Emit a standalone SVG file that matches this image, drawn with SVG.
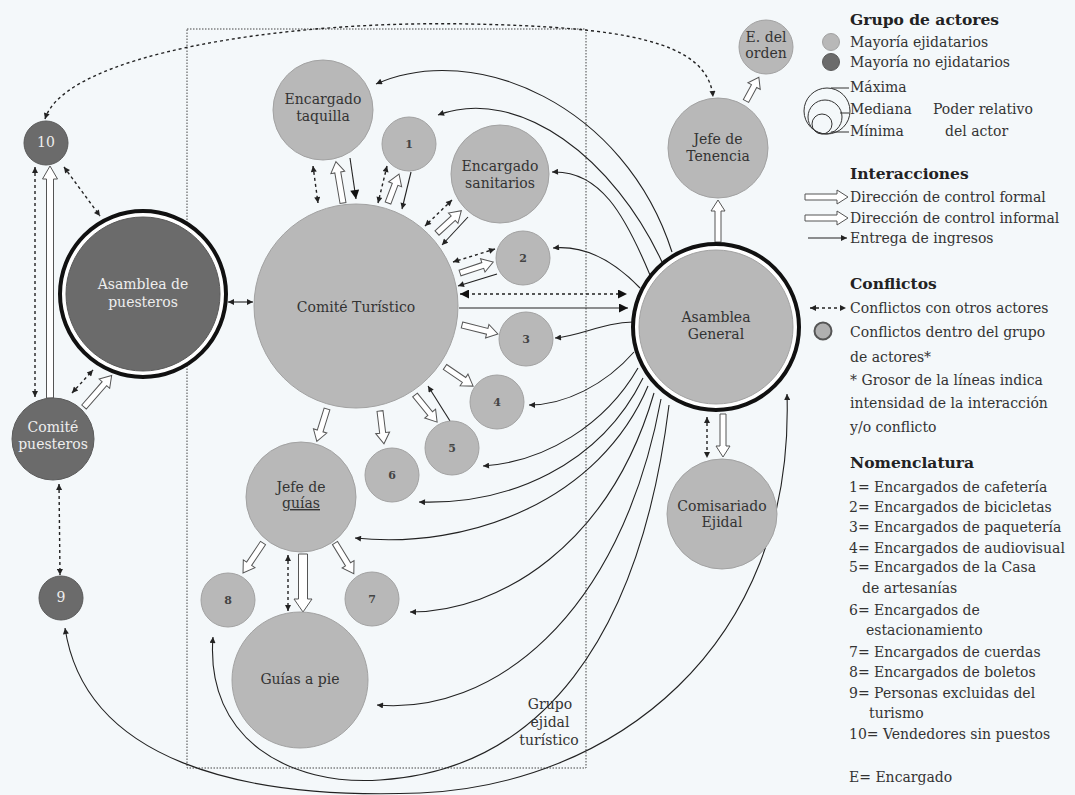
<svg xmlns="http://www.w3.org/2000/svg" width="1075" height="795" viewBox="0 0 1075 795">
<defs>
<style>
text{font-family:"DejaVu Serif","Liberation Serif",serif;fill:#333}
.nl{font-size:14px;text-anchor:middle}
.nd{font-size:14px;text-anchor:middle;fill:#eeeeee}
.num{font-size:11px;text-anchor:middle;fill:#444;font-weight:bold}
.lg{font-size:14px}
.hd{font-size:15.5px;font-weight:bold;fill:#222}
.light{fill:#b8b8b8;stroke:#a2a2a2;stroke-width:1}
.dark{fill:#6b6b6b;stroke:#5a5a5a;stroke-width:1}
.hol{fill:#fff;stroke:#555;stroke-width:1}
.sol{fill:none;stroke:#222;stroke-width:1.1}
.dash{fill:none;stroke:#222;stroke-width:1.4;stroke-dasharray:3 3}
</style>
<marker id="ah" viewBox="0 0 10 10" refX="10" refY="5" markerWidth="9" markerHeight="6" orient="auto-start-reverse" markerUnits="userSpaceOnUse"><path d="M0,0L10,5L0,10z" fill="#222"/></marker>
<marker id="ahb" viewBox="0 0 10 10" refX="10" refY="5" markerWidth="13" markerHeight="9" orient="auto-start-reverse" markerUnits="userSpaceOnUse"><path d="M0,0L10,5L0,10z" fill="#111"/></marker>
</defs>
<rect x="0" y="0" width="1075" height="795" fill="#f4f8fa"/>
<rect x="187" y="29" width="399" height="739" fill="none" stroke="#444" stroke-width="1" stroke-dasharray="1.5 1.5"/>

<g id="connectors">
<path class="sol" d="M672,252 C625,105 475,40 376,84" marker-end="url(#ah)"/>
<path class="sol" d="M662,262 C615,160 520,85 438,115" marker-end="url(#ah)"/>
<path class="sol" d="M650,275 C625,215 600,170 552,172" marker-end="url(#ah)"/>
<path class="sol" d="M640,288 C615,262 585,245 553,248" marker-end="url(#ah)"/>
<path class="sol" d="M633,322 C605,322 580,336 555,338" marker-end="url(#ah)"/>
<path class="sol" d="M634,352 C605,385 565,405 529,405" marker-end="url(#ah)"/>
<path class="sol" d="M638,368 C605,425 545,462 483,466" marker-end="url(#ah)"/>
<path class="sol" d="M643,378 C600,465 510,505 419,502" marker-end="url(#ah)"/>
<path class="sol" d="M648,386 C600,500 470,550 355,538" marker-end="url(#ah)"/>
<path class="sol" d="M654,393 C610,545 500,612 410,612" marker-end="url(#ah)"/>
<path class="sol" d="M661,399 C620,620 490,715 377,705" marker-end="url(#ah)"/>
<path class="sol" d="M669,405 C640,640 540,770 380,780 C290,786 205,740 213,637" marker-end="url(#ah)"/>
<path class="sol" d="M65,628 C85,760 240,800 420,793 C610,785 795,650 787,394" marker-start="url(#ah)" marker-end="url(#ah)"/>
<path class="dash" stroke-width="1.2" d="M45,119 C65,55 280,20 470,24 C620,27 708,40 713,97" marker-start="url(#ah)" marker-end="url(#ah)"/>
<path class="dash" stroke-width="2.2" stroke-dasharray="9 6" d="M460,294 H627" marker-start="url(#ahb)" marker-end="url(#ahb)"/>
<path class="sol" stroke-width="3.5" d="M459,308 H628" marker-end="url(#ahb)"/>
<path class="sol" stroke-width="1.5" d="M228,302 H253" marker-start="url(#ah)" marker-end="url(#ah)"/>
<path class="dash" d="M64,167 L100,216" marker-start="url(#ah)" marker-end="url(#ah)"/>
<path class="dash" d="M35,167 V397" marker-start="url(#ah)" marker-end="url(#ah)"/>
<path class="dash" d="M72,393 L93,370" marker-start="url(#ah)" marker-end="url(#ah)"/>
<path class="dash" d="M59,484 L60,575" marker-start="url(#ah)" marker-end="url(#ah)"/>
<path class="dash" d="M313,166 L318,203" marker-start="url(#ah)" marker-end="url(#ah)"/>
<path class="dash" d="M387,166 L378,203" marker-start="url(#ah)" marker-end="url(#ah)"/>
<path class="dash" d="M452,200 L425,226" marker-start="url(#ah)" marker-end="url(#ah)"/>
<path class="dash" d="M495,249 L453,262" marker-start="url(#ah)" marker-end="url(#ah)"/>
<path class="dash" d="M288,555 V611" marker-start="url(#ah)" marker-end="url(#ah)"/>
<path class="dash" d="M707,417 V458" marker-start="url(#ah)" marker-end="url(#ah)"/>
<path class="sol" stroke-width="2.6" d="M350,158 L356,199" marker-end="url(#ahb)"/>
<path class="sol" d="M411,172 L402,209" marker-end="url(#ah)"/>
<path class="sol" d="M468,217 L442,245" marker-end="url(#ah)"/>
<path class="sol" d="M497,274 L458,286" marker-end="url(#ah)"/>
<path class="sol" d="M450,421 L428,386" marker-end="url(#ah)"/>
<path class="hol" transform="translate(343,203) rotate(-99.7)" d="M0,-3H31V-7L42,0L31,7V3H0Z"/>
<path class="hol" transform="translate(388,203) rotate(-69.2)" d="M0,-3H20V-7L31,0L20,7V3H0Z"/>
<path class="hol" transform="translate(437,233) rotate(-42.5)" d="M0,-3H22V-7L33,0L22,7V3H0Z"/>
<path class="hol" transform="translate(460,273) rotate(-18.4)" d="M0,-3H24V-7L35,0L24,7V3H0Z"/>
<path class="hol" transform="translate(462,325) rotate(14)" d="M0,-3H26V-7L37,0L26,7V3H0Z"/>
<path class="hol" transform="translate(445,367) rotate(34.2)" d="M0,-3H23V-7L34,0L23,7V3H0Z"/>
<path class="hol" transform="translate(415,395) rotate(50.8)" d="M0,-3H24V-7L35,0L24,7V3H0Z"/>
<path class="hol" transform="translate(380,411) rotate(83.1)" d="M0,-3H22V-7L33,0L22,7V3H0Z"/>
<path class="hol" transform="translate(327,409) rotate(107.4)" d="M0,-3H23V-7L34,0L23,7V3H0Z"/>
<path class="hol" transform="translate(263,543) rotate(123.7)" d="M0,-3H25V-7L36,0L25,7V3H0Z"/>
<path class="hol" transform="translate(335,543) rotate(58.5)" d="M0,-3H25V-7L36,0L25,7V3H0Z"/>
<path class="hol" transform="translate(303,554) rotate(90)" d="M0,-4.5H45V-9L58,0L45,9V4.5H0Z"/>
<path class="hol" transform="translate(718,242) rotate(-90)" d="M0,-3H31V-7L42,0L31,7V3H0Z"/>
<path class="hol" transform="translate(746,101) rotate(-61.6)" d="M0,-3H17V-7L27,0L17,7V3H0Z"/>
<path class="hol" transform="translate(723,414) rotate(90)" d="M0,-3H32V-7L43,0L32,7V3H0Z"/>
<path class="hol" transform="translate(50,398) rotate(-90)" d="M0,-3.5H219V-7.5L232,0L219,7.5V3.5H0Z"/>
<path class="hol" transform="translate(84,407) rotate(-48.8)" d="M0,-3H31V-7L42,0L31,7V3H0Z"/>
</g>

<g id="n10"><circle class="dark" cx="46" cy="143" r="22"/><text class="nd" x="46" y="147" font-size="11">10</text></g>
<g id="asamblea-puesteros"><circle cx="143" cy="294" r="83" fill="#fff" stroke="#111" stroke-width="4"/><circle class="dark" cx="143" cy="294" r="77"/><text class="nd" x="143" y="289">Asamblea de</text><text class="nd" x="143" y="307">puesteros</text></g>
<g id="comite-puesteros"><circle class="dark" cx="53" cy="439" r="41"/><text class="nd" x="53" y="432">Comité</text><text class="nd" x="53" y="449">puesteros</text></g>
<g id="n9"><circle class="dark" cx="61" cy="598" r="22"/><text class="nd" x="61" y="602" font-size="11">9</text></g>
<g id="taquilla"><circle class="light" cx="323" cy="110" r="50"/><text class="nl" x="323" y="104">Encargado</text><text class="nl" x="323" y="121">taquilla</text></g>
<g id="n1"><circle class="light" cx="409" cy="144" r="27"/><text class="num" x="409" y="148">1</text></g>
<g id="sanitarios"><circle class="light" cx="500" cy="174" r="49"/><text class="nl" x="500" y="171">Encargado</text><text class="nl" x="500" y="188">sanitarios</text></g>
<g id="comite-turistico"><circle class="light" cx="356" cy="306" r="102"/><text class="nl" x="356" y="312">Comité Turístico</text></g>
<g id="n2"><circle class="light" cx="523" cy="258" r="27"/><text class="num" x="523" y="262">2</text></g>
<g id="n3"><circle class="light" cx="526" cy="339" r="27"/><text class="num" x="526" y="343">3</text></g>
<g id="n4"><circle class="light" cx="497" cy="402" r="27"/><text class="num" x="497" y="406">4</text></g>
<g id="n5"><circle class="light" cx="452" cy="448" r="27"/><text class="num" x="452" y="452">5</text></g>
<g id="n6"><circle class="light" cx="392" cy="475" r="27"/><text class="num" x="392" y="479">6</text></g>
<g id="jefe-guias"><circle class="light" cx="301" cy="497" r="55"/><text class="nl" x="301" y="492">Jefe de</text><text class="nl" x="301" y="508" text-decoration="underline">guías</text></g>
<g id="n8"><circle class="light" cx="228" cy="600" r="27"/><text class="num" x="228" y="604">8</text></g>
<g id="n7"><circle class="light" cx="372" cy="599" r="27"/><text class="num" x="372" y="603">7</text></g>
<g id="guias-pie"><circle class="light" cx="300" cy="680" r="68"/><text class="nl" x="300" y="684">Guías a pie</text></g>
<g id="grupo-label"><text class="nl" x="550" y="709">Grupo</text><text class="nl" x="550" y="727">ejidal</text><text class="nl" x="549" y="745">turístico</text></g>
<g id="jefe-tenencia"><circle class="light" cx="718" cy="148" r="50"/><text class="nl" x="718" y="144">Jefe de</text><text class="nl" x="718" y="161">Tenencia</text></g>
<g id="e-orden"><circle class="light" cx="766" cy="47" r="27"/><text class="nl" x="766" y="42" font-size="12">E. del</text><text class="nl" x="766" y="58" font-size="12">orden</text></g>
<g id="asamblea-general"><circle cx="716" cy="327" r="83" fill="#fff" stroke="#111" stroke-width="4"/><circle class="light" cx="716" cy="327" r="77"/><text class="nl" x="716" y="322">Asamblea</text><text class="nl" x="716" y="339">General</text></g>
<g id="comisariado"><circle class="light" cx="722" cy="514" r="55"/><text class="nl" x="722" y="511">Comisariado</text><text class="nl" x="722" y="527">Ejidal</text></g>

<g id="legend">
<text class="hd" x="850" y="25">Grupo de actores</text>
<circle class="light" cx="831" cy="42" r="8.5" stroke="#888"/>
<text class="lg" x="850" y="47">Mayoría ejidatarios</text>
<circle class="dark" cx="831" cy="62" r="8.5"/>
<text class="lg" x="850" y="67">Mayoría no ejidatarios</text>
<circle cx="827" cy="111" r="23" fill="none" stroke="#333" stroke-width="1"/>
<circle cx="825" cy="117" r="17" fill="none" stroke="#333" stroke-width="1"/>
<circle cx="822" cy="124" r="10" fill="none" stroke="#333" stroke-width="1"/>
<path d="M831,88 H849 M840,113 H849 M831,132 H849" stroke="#333" stroke-width="1" fill="none"/>
<text class="lg" x="850" y="92">Máxima</text>
<text class="lg" x="850" y="114">Mediana</text>
<text class="lg" x="933" y="114">Poder relativo</text>
<text class="lg" x="850" y="136">Mínima</text>
<text class="lg" x="945" y="136">del actor</text>
<text class="hd" x="850" y="179">Interacciones</text>
<path class="hol" transform="translate(805,197)" d="M0,-3H32V-7L43,0L32,7V3H0Z"/>
<text class="lg" x="850" y="202">Dirección de control formal</text>
<path class="hol" transform="translate(805,218)" d="M0,-3H32V-7L43,0L32,7V3H0Z"/>
<text class="lg" x="850" y="223">Dirección de control informal</text>
<path class="sol" d="M808,238 H847" marker-end="url(#ah)"/>
<text class="lg" x="850" y="243">Entrega de ingresos</text>
<text class="hd" x="850" y="289">Conflictos</text>
<path class="dash" d="M810,308 H846" marker-start="url(#ah)" marker-end="url(#ah)"/>
<text class="lg" x="850" y="313">Conflictos con otros actores</text>
<circle cx="823" cy="331" r="8.5" fill="#b0b0b0" stroke="#555" stroke-width="2"/>
<text class="lg" x="850" y="337">Conflictos dentro del grupo</text>
<text class="lg" x="850" y="362">de actores*</text>
<text class="lg" x="850" y="385">* Grosor de la líneas indica</text>
<text class="lg" x="850" y="408">intensidad de la interacción</text>
<text class="lg" x="850" y="432">y/o conflicto</text>
<text class="hd" x="850" y="468">Nomenclatura</text>
<text class="lg" x="849" y="492">1= Encargados de cafetería</text>
<text class="lg" x="849" y="512">2= Encargados de bicicletas</text>
<text class="lg" x="849" y="532">3= Encargados de paquetería</text>
<text class="lg" x="849" y="553">4= Encargados de audiovisual</text>
<text class="lg" x="849" y="572">5= Encargados de la Casa</text>
<text class="lg" x="862" y="593">de artesanías</text>
<text class="lg" x="849" y="615">6= Encargados de</text>
<text class="lg" x="866" y="635">estacionamiento</text>
<text class="lg" x="849" y="657">7= Encargados de cuerdas</text>
<text class="lg" x="849" y="677">8= Encargados de boletos</text>
<text class="lg" x="849" y="698">9= Personas excluidas del</text>
<text class="lg" x="869" y="718">turismo</text>
<text class="lg" x="849" y="739">10= Vendedores sin puestos</text>
<text class="lg" x="849" y="782">E= Encargado</text>
</g>
</svg>
